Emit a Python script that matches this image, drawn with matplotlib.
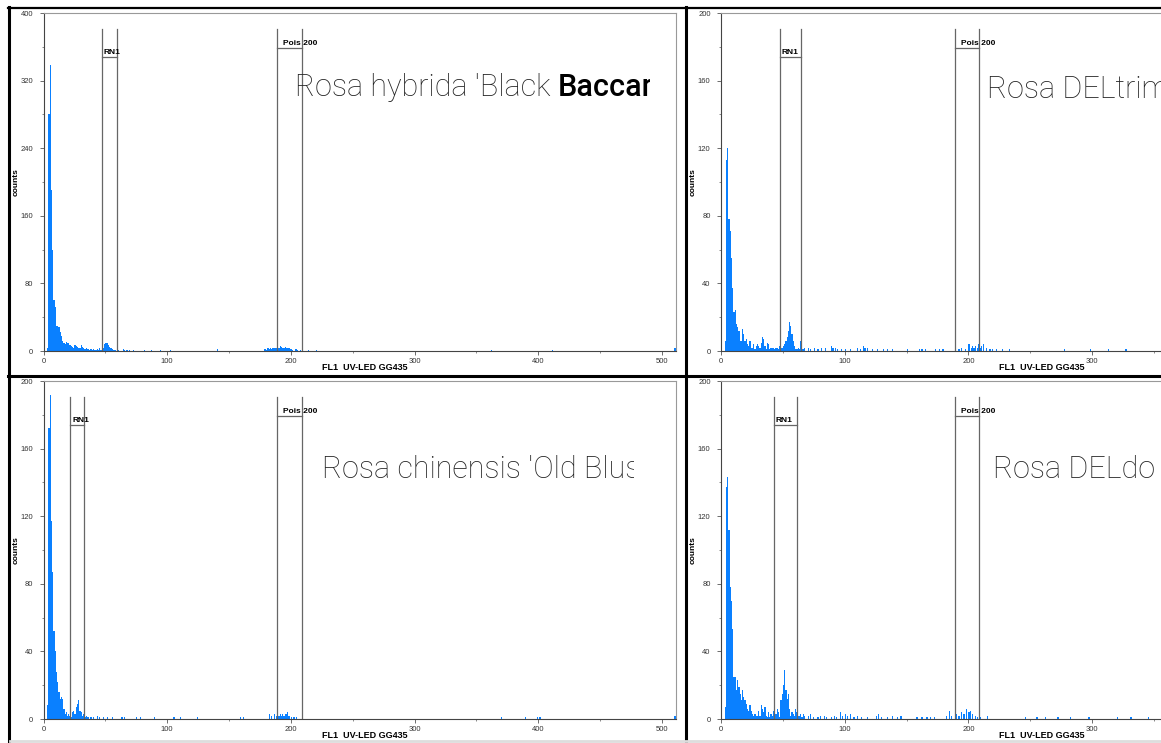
import numpy as np
import matplotlib.pyplot as plt
from matplotlib.lines import Line2D
from matplotlib.transforms import Bbox, TransformedBbox

W, H = 1161, 743
N_CH = 511

# ---- data (counts per channel) ----
# channels 0.. of the dense low part, then scattered single bins further right
p1_dense = [0, 0, 0, 3, 280, 338, 190, 120, 60, 52, 30, 29, 28, 22, 18, 12, 10, 8, 11, 9,
            10, 7, 6, 5, 4, 7, 6, 5, 4, 3, 7, 5, 4, 2, 3, 2, 2, 1, 2, 1,
            2, 1, 1, 2, 1, 3, 1, 2, 3, 8, 10, 9, 7, 5, 4, 2, 1, 1, 1, 0, 1]
p1_sparse_ch = [64, 65, 67, 69, 72, 81, 87, 94, 102, 140, 178, 179, 180, 181, 182, 183, 184, 185,
                186, 187, 188, 189, 190, 191, 192, 193, 194, 195, 196, 197, 198, 199, 200, 201,
                203, 204, 205, 207, 209, 214, 220, 362, 411, 510]
p1_sparse_n = [2, 1, 1, 1, 1, 1, 1, 1, 1, 2, 2, 2, 1, 3, 2, 3, 2, 4, 3, 4, 3, 5, 4, 6, 5, 4,
               4, 5, 3, 4, 3, 2, 2, 1, 2, 2, 1, 1, 1, 1, 1, 1, 1, 3]

p2_dense = [0, 0, 0, 6, 113, 120, 78, 71, 55, 37, 23, 24, 16, 14, 12, 6, 6, 13, 10, 6,
            7, 4, 3, 6, 2, 2, 4, 1, 3, 4, 3, 2, 5, 8, 7, 3, 1, 5, 4, 1,
            2, 2, 2, 1, 2, 2, 1, 3, 2, 2, 3, 4, 6, 8, 12, 17, 15, 10, 6, 3,
            1, 1, 2, 1, 6, 1, 1, 2]
p2_sparse_ch = [70, 72, 75, 78, 81, 84, 89, 90, 92, 94, 97, 100, 104, 110, 112, 115, 116, 118,
                122, 126, 131, 134, 138, 150, 160, 162, 165, 173, 176, 179, 192, 194, 197, 200,
                202, 203, 204, 205, 207, 208, 209, 210, 212, 214, 217, 219, 222, 227, 233, 277,
                298, 313, 327]
p2_sparse_n = [2, 1, 2, 1, 2, 2, 3, 2, 2, 1, 1, 1, 1, 2, 1, 3, 2, 2, 1, 1, 1, 1, 1, 1, 1, 1,
               1, 1, 1, 1, 1, 2, 1, 4, 2, 3, 2, 3, 2, 4, 2, 3, 4, 2, 1, 1, 1, 1, 1, 1, 1, 1, 1]

p3_dense = [0, 0, 0, 8, 172, 192, 117, 87, 52, 40, 28, 22, 16, 12, 13, 12, 6, 3, 4, 2,
            3, 2, 1, 4, 5, 3, 7, 9, 11, 5, 4, 2, 3, 1, 2, 1, 1]
p3_sparse_ch = [38, 40, 43, 45, 48, 51, 55, 63, 65, 75, 78, 89, 105, 110, 124, 159, 161, 182,
                184, 186, 188, 189, 190, 191, 192, 193, 194, 195, 196, 197, 198, 200, 202, 204,
                370, 389, 399, 401, 510]
p3_sparse_n = [1, 1, 2, 1, 1, 1, 1, 1, 1, 1, 1, 1, 1, 1, 1, 1, 1, 3, 2, 3, 2, 3, 2, 3, 2, 3,
               2, 3, 3, 4, 2, 1, 1, 1, 1, 1, 1, 1, 2]

p4_dense = [0, 0, 0, 7, 137, 143, 112, 78, 70, 53, 25, 25, 17, 23, 19, 15, 11, 17, 13, 11,
            9, 6, 5, 8, 5, 3, 2, 3, 2, 2, 5, 2, 8, 6, 4, 7, 2, 1, 4, 1,
            3, 2, 5, 2, 3, 6, 4, 1, 11, 15, 20, 29, 17, 12, 15, 6, 2, 4, 3, 2,
            6, 4, 2, 2, 3, 1, 3, 2]
p4_sparse_ch = [70, 72, 74, 78, 80, 83, 85, 89, 91, 93, 96, 98, 100, 102, 104, 107, 110, 113,
                118, 125, 127, 129, 134, 138, 142, 145, 158, 162, 166, 169, 172, 182, 184, 186,
                190, 192, 194, 196, 198, 200, 201, 203, 205, 207, 209, 215, 246, 255, 262, 272,
                282, 297, 320, 331, 345]
p4_sparse_n = [2, 3, 1, 1, 2, 2, 1, 1, 2, 1, 4, 2, 3, 2, 3, 1, 2, 1, 1, 2, 3, 1, 1, 2, 1, 2,
               1, 1, 1, 1, 1, 2, 5, 2, 3, 2, 4, 3, 6, 4, 5, 3, 2, 1, 1, 2, 1, 1, 1, 1, 1, 1,
               1, 1, 1]

titles = ["Rosa hybrida 'Black", "Rosa DELtrim", "Rosa chinensis 'Old Blus", "Rosa DELdo"]
title_bold = ["Baccar", "", "", ""]
y_max = [400, 200, 200, 200]
y_major = [80, 40, 40, 40]
x_ticks = [[0, 100, 200, 300, 400, 500], [0, 100, 200, 300],
           [0, 100, 200, 300, 400, 500], [0, 100, 200, 300]]
rn1_gates = [(47.3, 59.4), (47.7, 64.7), (21.7, 33.0), (42.6, 61.2)]
pois_gates = [(188.8, 209.0), (189.4, 209.0), (189.0, 209.2), (189.0, 209.0)]

# ---- layout (pixels of the 1161x743 picture) ----
axes_px = [(43.5, 13), (721, 13), (43.5, 381), (721, 381)]   # left, top
AX_W, AX_H = 632, 338
title_px = [(251.5, 83), (265.7, 85.3), (278, 97), (272.3, 97.3)]  # offset from axes left/top
title_clip_x = [650, W, 634, W]
TITLE_SIZE = 22


def build(dense, ch, n):
    c = np.zeros(N_CH)
    c[:len(dense)] = dense
    c[ch] = n
    return c


hists = [build(p1_dense, p1_sparse_ch, p1_sparse_n),
         build(p2_dense, p2_sparse_ch, p2_sparse_n),
         build(p3_dense, p3_sparse_ch, p3_sparse_n),
         build(p4_dense, p4_sparse_ch, p4_sparse_n)]

plt.rcParams['font.family'] = ['Liberation Sans', 'DejaVu Sans']
fig = plt.figure(figsize=(W / 100, H / 100), dpi=100)
fig.patch.set_facecolor('white')

texts = []
for i in range(4):
    lx, ty = axes_px[i]
    ax = fig.add_axes([lx / W, 1 - (ty + AX_H) / H, AX_W / W, AX_H / H])
    ax.stairs(hists[i], np.arange(N_CH + 1), fill=True, color='#0A80FF', lw=0)
    ax.set_xlim(0, N_CH)
    ax.set_ylim(0, y_max[i])

    ax.set_xticks(x_ticks[i])
    ax.set_xticks(np.arange(50, N_CH, 100), minor=True)
    ax.set_yticks(np.arange(0, y_max[i] + 1, y_major[i]))
    ax.set_yticks(np.arange(y_major[i] / 2, y_max[i], y_major[i]), minor=True)
    ax.tick_params(which='major', length=3, width=0.6, color='#555555', labelsize=5.5,
                   labelcolor='#333333', pad=2)
    ax.tick_params(axis='y', which='major', pad=4.5)
    ax.tick_params(which='minor', length=1.5, width=0.6, color='#777777')
    for s in ['left', 'bottom']:
        ax.spines[s].set_color('#444444')
        ax.spines[s].set_linewidth(0.8)
    for s in ['top', 'right']:
        ax.spines[s].set_color('#999999')
        ax.spines[s].set_linewidth(0.8)

    ax.text(0.508, -17 / AX_H, 'FL1  UV-LED GG435', transform=ax.transAxes, ha='center',
            va='center', fontsize=6.5, fontweight='bold')
    ax.text(-27.5 / AX_W, 0.5, 'counts', transform=ax.transAxes, rotation=90, ha='center',
            va='center', fontsize=6, fontweight='bold')

    # gates
    trans = ax.get_xaxis_transform()
    for (g0, g1), bar_y, label, dx in [(rn1_gates[i], 0.870, 'RN1', 1.5),
                                      (pois_gates[i], 0.896, 'Pois 200', 5.0)]:
        ax.plot([g0, g0], [0, 0.953], transform=trans, color='#666666', lw=0.9)
        ax.plot([g1, g1], [0, 0.953], transform=trans, color='#666666', lw=0.9)
        ax.plot([g0, g1], [bar_y, bar_y], transform=trans, color='#666666', lw=0.9)
        ax.text(g0 + dx, bar_y + 0.004, label, transform=trans, ha='left', va='bottom',
                fontsize=6, fontweight='bold')

    # sample name, clipped like the pasted label
    tx, tty = title_px[i]
    t = ax.text(tx / AX_W, 1 - tty / AX_H, titles[i], transform=ax.transAxes,
                fontsize=TITLE_SIZE, family=['Roboto', 'DejaVu Sans'], fontweight='light',
                color='#222222', ha='left', va='baseline', clip_on=True)
    clip = TransformedBbox(Bbox([[lx / W, 0], [title_clip_x[i] / W, 1]]), fig.transFigure)
    t.set_clip_box(clip)
    texts.append((ax, t, clip))

fig.canvas.draw()
for i, (ax, t, clip) in enumerate(texts):
    if title_bold[i]:
        bb = t.get_window_extent()
        x0 = ax.transAxes.inverted().transform((bb.x1 + 7, 0))[0]
        tb = ax.text(x0, t.get_position()[1], title_bold[i], transform=ax.transAxes,
                     fontsize=TITLE_SIZE, family=['Roboto', 'DejaVu Sans'], fontweight='medium',
                     color='black', ha='left', va='baseline', clip_on=True)
        tb.set_clip_box(clip)


# black frame lines of the pasted composite
def fline(x0, y0, x1, y1, lw, color='black'):
    fig.add_artist(Line2D([x0 / W, x1 / W], [1 - y0 / H, 1 - y1 / H],
                          transform=fig.transFigure, color=color, lw=lw))


fline(8.5, 7, 8.5, H, 2.2)
fline(8, 7.5, W, 7.5, 1.6)
fline(685.5, 7, 685.5, H, 2.2)
fline(8, 375.5, W, 375.5, 2.2)
fline(10, 741, W, 741, 2.0, color='#dddddd')

fig.savefig('out.png', dpi=100)
